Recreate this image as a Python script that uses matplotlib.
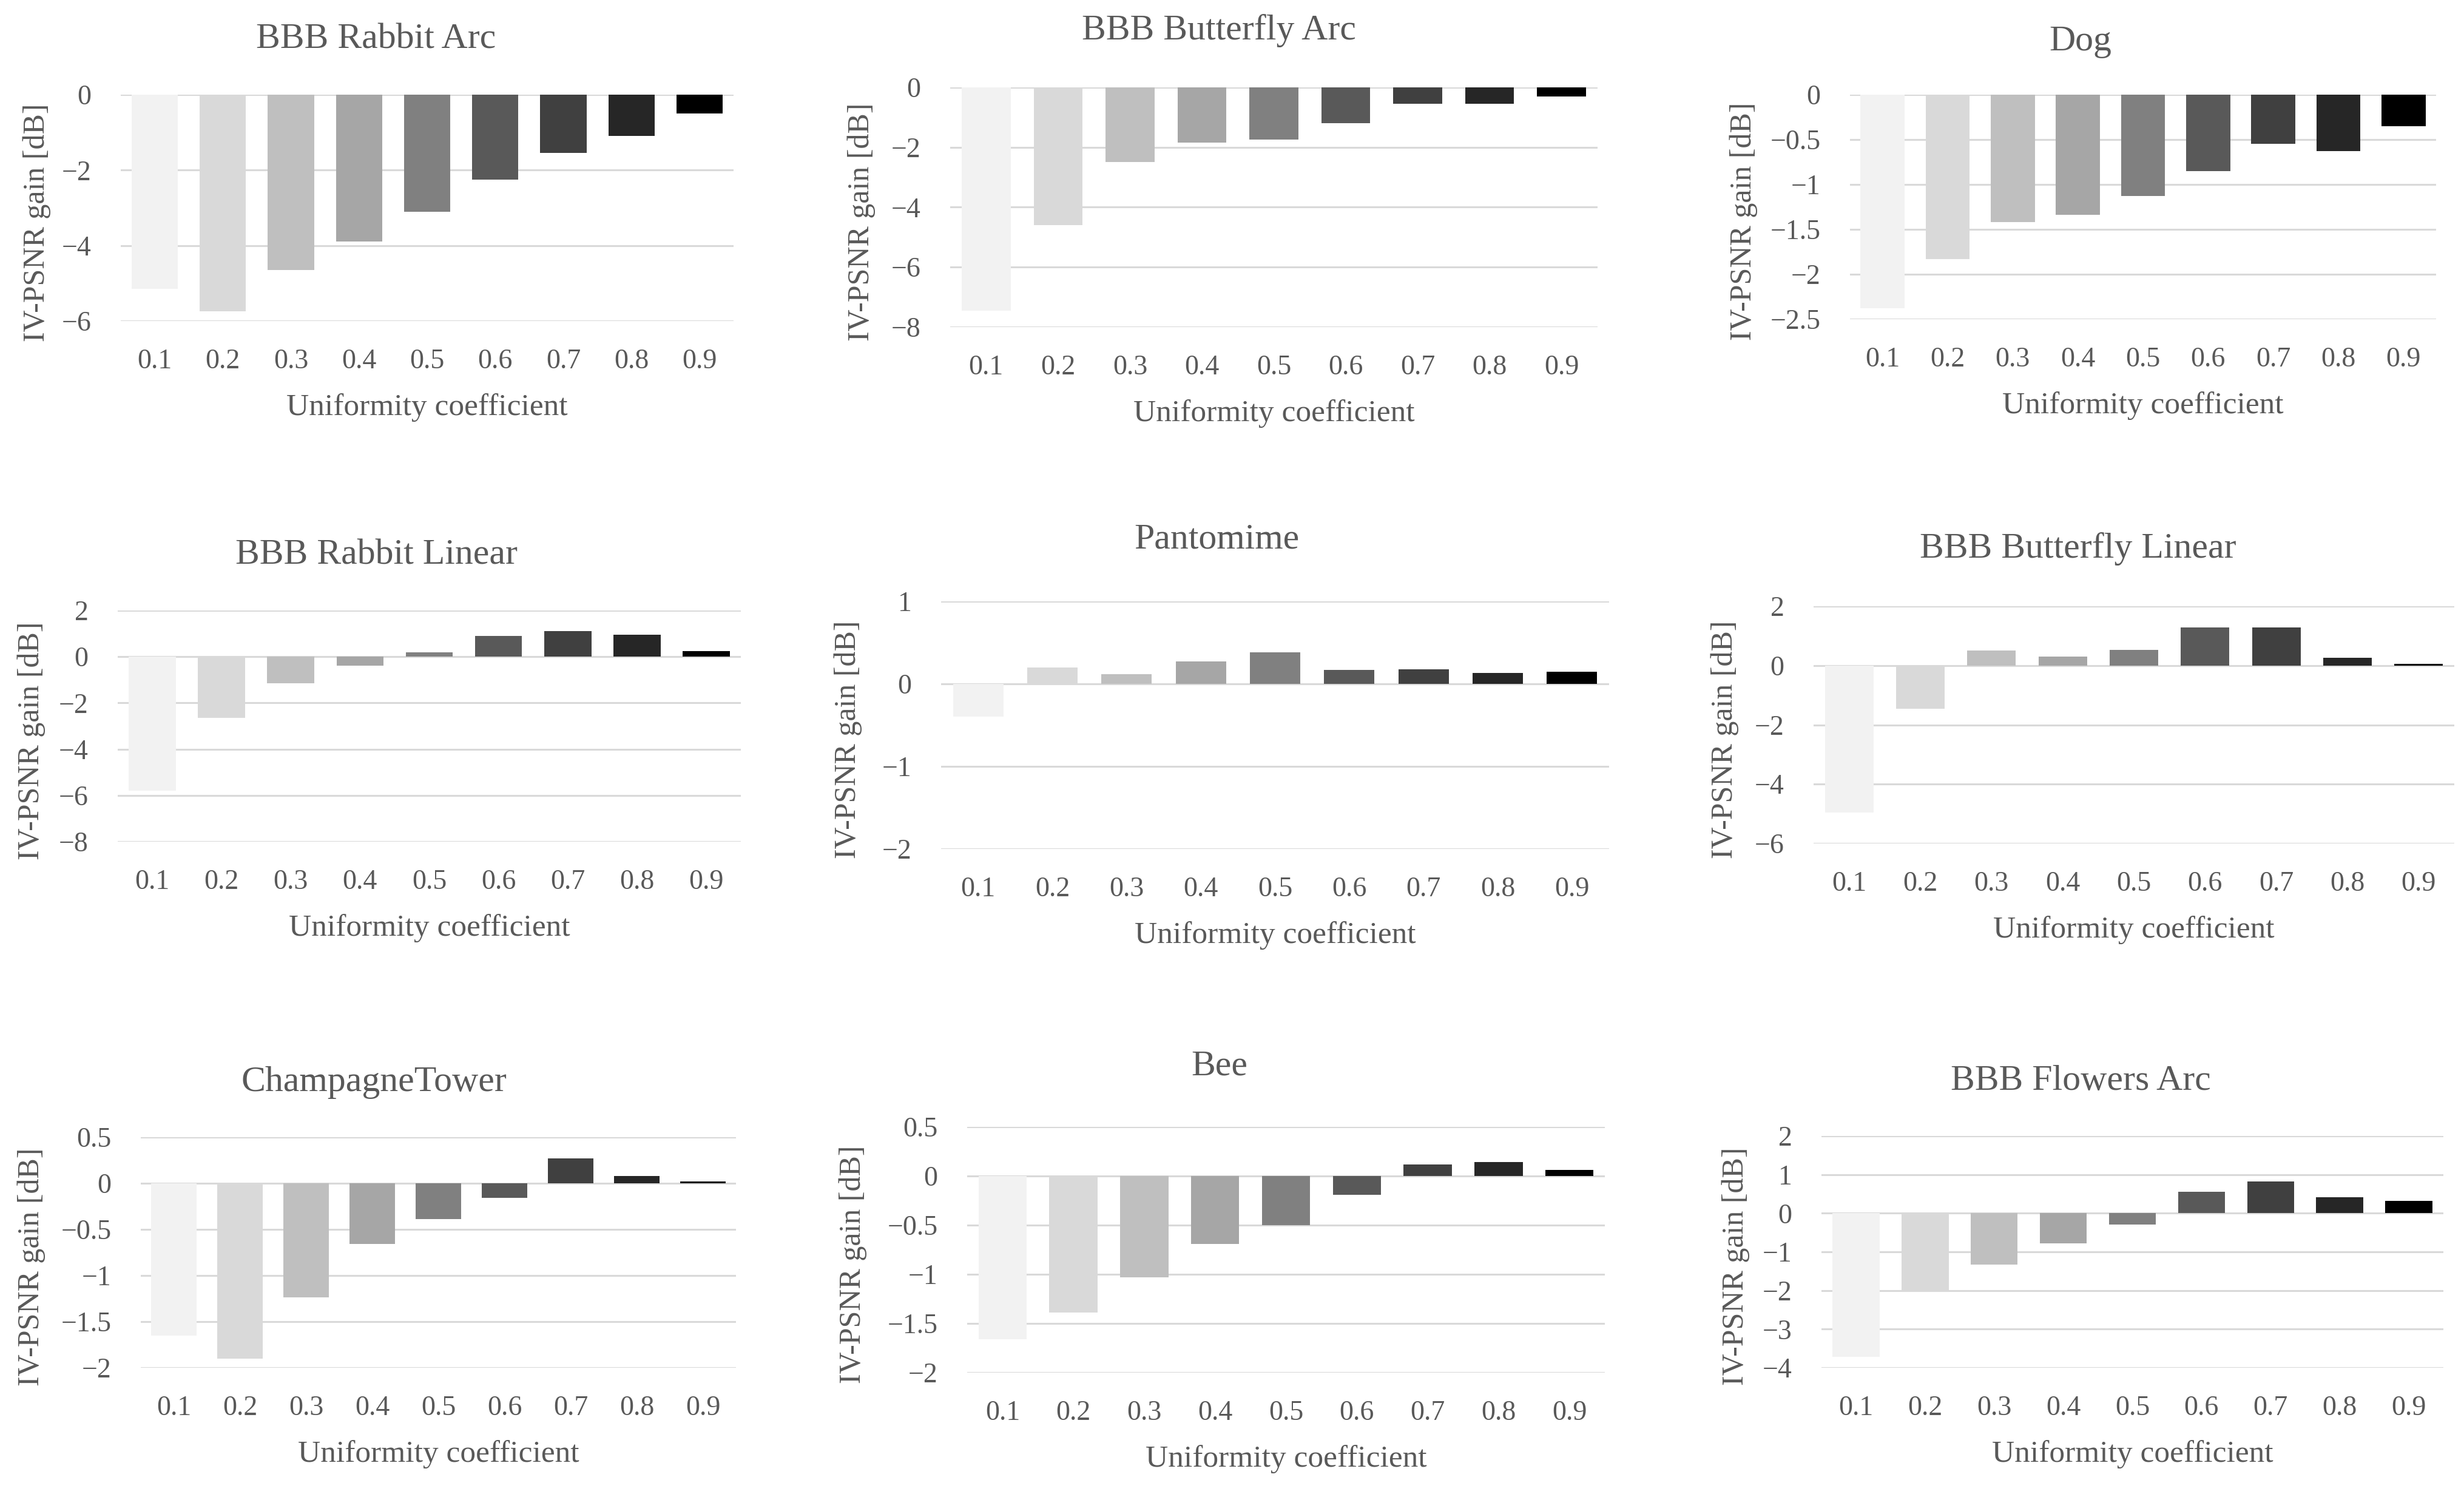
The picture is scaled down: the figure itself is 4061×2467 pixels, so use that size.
import matplotlib
matplotlib.use("Agg")
import matplotlib.pyplot as plt
import numpy as np

# ---- data (IV-PSNR gain per uniformity coefficient) ----
coef = ["0.1", "0.2", "0.3", "0.4", "0.5", "0.6", "0.7", "0.8", "0.9"]
shades = ["#f2f2f2", "#d9d9d9", "#bfbfbf", "#a6a6a6", "#808080",
          "#595959", "#404040", "#262626", "#000000"]

titles = ["BBB Rabbit Arc", "BBB Butterfly Arc", "Dog",
          "BBB Rabbit Linear", "Pantomime", "BBB Butterfly Linear",
          "ChampagneTower", "Bee", "BBB Flowers Arc"]

rabbit_arc       = [-5.15, -5.75, -4.65, -3.90, -3.10, -2.25, -1.55, -1.10, -0.50]
butterfly_arc    = [-7.45, -4.60, -2.50, -1.85, -1.75, -1.20, -0.55, -0.55, -0.30]
dog              = [-2.38, -1.83, -1.42, -1.34, -1.13, -0.85, -0.55, -0.63, -0.35]
rabbit_linear    = [-5.80, -2.65, -1.15, -0.40, 0.20, 0.90, 1.10, 0.95, 0.25]
pantomime        = [-0.40, 0.20, 0.12, 0.27, 0.38, 0.17, 0.18, 0.13, 0.15]
butterfly_linear = [-4.95, -1.45, 0.50, 0.30, 0.52, 1.28, 1.28, 0.27, 0.05]
champagne        = [-1.65, -1.90, -1.24, -0.66, -0.39, -0.16, 0.27, 0.08, 0.02]
bee              = [-1.66, -1.39, -1.03, -0.69, -0.50, -0.19, 0.12, 0.14, 0.06]
flowers_arc      = [-3.72, -2.00, -1.33, -0.78, -0.30, 0.55, 0.82, 0.42, 0.32]
series = [rabbit_arc, butterfly_arc, dog, rabbit_linear, pantomime,
          butterfly_linear, champagne, bee, flowers_arc]

yticks = [[-6, -4, -2, 0], [-8, -6, -4, -2, 0], [-2.5, -2, -1.5, -1, -0.5, 0],
          [-8, -6, -4, -2, 0, 2], [-2, -1, 0, 1], [-6, -4, -2, 0, 2],
          [-2, -1.5, -1, -0.5, 0, 0.5], [-2, -1.5, -1, -0.5, 0, 0.5],
          [-4, -3, -2, -1, 0, 1, 2]]

# ---- layout (pixels of the 4062x2467 canvas) ----
W, H = 4062, 2467
# left, right, top, bottom of plot area
rects = [(199, 1209, 156, 529), (1566, 2633, 144, 539), (3049, 4015, 156, 526),
         (194, 1221, 1006, 1387), (1551, 2652, 991, 1399), (2989, 4045, 999, 1390),
         (232, 1213, 1874, 2254), (1594, 2645, 1857, 2262), (3002, 4027, 1872, 2254)]
title_xy = [(620, 66), (2009, 50), (3429, 69), (620, 915), (2005, 889), (3425, 905),
            (616, 1784), (2010, 1757), (3429, 1782)]
ylab_x = [61, 1420, 2874, 52, 1398, 2843, 52, 1406, 2861]

txt = "#595959"
grid = "#d9d9d9"
plt.rcParams["font.family"] = ["Liberation Serif", "DejaVu Serif"]

fig = plt.figure(figsize=(W / 100, H / 100), dpi=100)
x = np.arange(len(coef))
for i in range(9):
    l, r, t, b = rects[i]
    ax = fig.add_axes([l / W, 1 - b / H, (r - l) / W, (b - t) / H])
    ax.bar(x, series[i], 0.68, color=shades, zorder=3)
    ax.set_xlim(-0.5, 8.5)
    ax.set_ylim(min(yticks[i]), max(yticks[i]))
    ax.set_yticks(yticks[i])
    ax.set_yticklabels([f"{v:g}".replace("-", "\u2212") for v in yticks[i]])
    ax.set_xticks(x)
    ax.set_xticklabels(coef)
    ax.grid(axis="y", color=grid, lw=2.2, zorder=0)
    for s in ax.spines.values():
        s.set_visible(False)
    ax.tick_params(length=0, labelsize=33, colors=txt)
    ax.tick_params(axis="y", pad=35)
    ax.tick_params(axis="x", pad=33)
    hpx = b - t
    ax.set_xlabel("Uniformity coefficient", fontsize=37, color=txt)
    ax.xaxis.set_label_coords(0.5, -143 / hpx)
    ax.xaxis.label.set_va("center")
    ax.set_ylabel("IV-PSNR gain [dB]", fontsize=36, color=txt)
    ax.yaxis.set_label_coords((ylab_x[i] - l) / (r - l), 0.5 - 24 / hpx)
    ax.yaxis.label.set_va("center")
    tx, ty = title_xy[i]
    fig.text(tx / W, 1 - ty / H, titles[i], fontsize=43, color=txt,
             ha="center", va="center")

plt.savefig("out.png", dpi=100, facecolor="white")
